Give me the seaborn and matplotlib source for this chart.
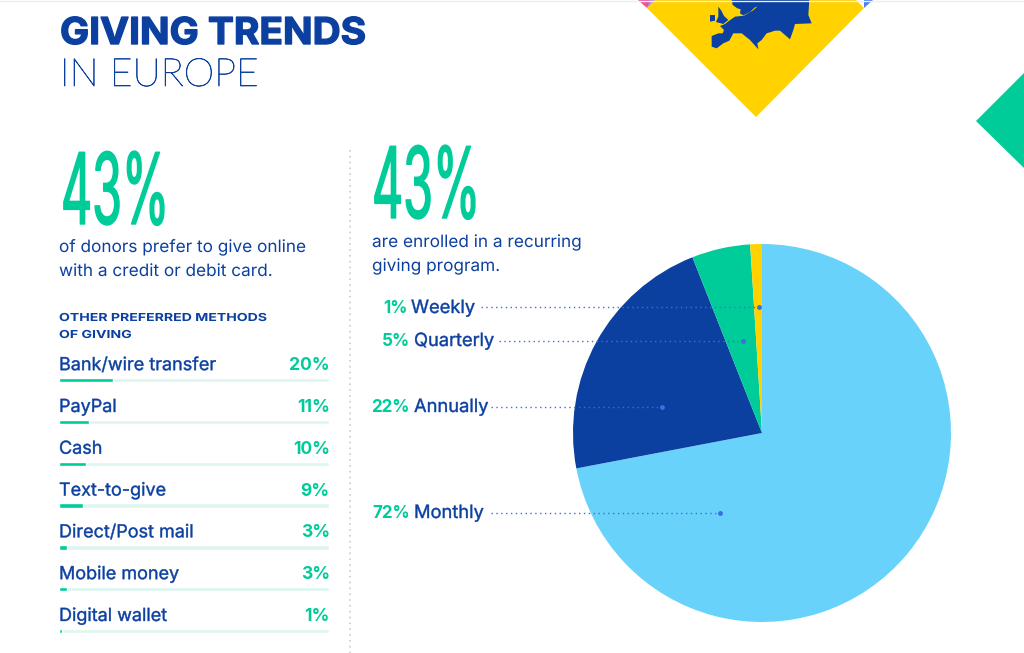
import matplotlib.patheffects as pe
import seaborn as sns
from matplotlib import pyplot as plt
from matplotlib.transforms import Affine2D

method_labels = ['Bank/wire transfer', 'PayPal', 'Cash', 'Text-to-give', 'Direct/Post mail', 'Mobile money', 'Digital wallet']
method_values = [20, 11, 10, 9, 3, 3, 1]
track_values = [100, 100, 100, 100, 100, 100, 100]

freq_labels = ['Monthly', 'Annually', 'Quarterly', 'Weekly']
freq_values = [72, 22, 5, 1]

NAVY = '#0B3FA0'
GREEN = '#00CC99'
SKY = '#69D2FA'
YELLOW = '#FFD200'
TRACK = '#DDF7F0'
DOT = '#3B6FE0'
FONT = 'Inter'

W, H = 1024, 653


class Stretch(pe.AbstractPathEffect):
    # scale a text around its anchor (x0, y0 are display px), optional outline to thicken
    def __init__(self, x0=0, y0=0, sx=1, sy=1, bold=0):
        super().__init__()
        self.x0 = x0
        self.y0 = y0
        self.sx = sx
        self.sy = sy
        self.bold = bold

    def draw_path(self, renderer, gc, tpath, affine, rgbFace=None):
        t = affine + Affine2D().translate(-self.x0, -self.y0).scale(self.sx, self.sy).translate(self.x0, self.y0)
        gc0 = renderer.new_gc()
        gc0.copy_properties(gc)
        if self.bold:
            gc0.set_linewidth(self.bold)
            gc0.set_foreground(rgbFace)
        else:
            gc0.set_linewidth(0)
        renderer.draw_path(gc0, tpath, t, rgbFace)
        gc0.restore()


def px_text(ax, x, y, s, size, color=NAVY, weight='normal', ha='left', sx=1, sy=1, bold=0, family=None):
    t = ax.text(x, y, s, fontsize=size * 0.72, color=color, fontweight=weight, ha=ha, va='baseline')
    if family:
        t.set_fontfamily(family)
    if sx != 1 or sy != 1 or bold:
        t.set_path_effects([Stretch(x, H - y, sx, sy, bold)])
    return t


sns.set_theme(style='white')
plt.rcParams['font.family'] = [FONT, 'DejaVu Sans']

fig = plt.figure(figsize=(W / 100, H / 100), dpi=100, facecolor='white')

# full page axes in pixel coords, for the decoration and text
bg = fig.add_axes([0, 0, 1, 1])
bg.set_xlim(0, W)
bg.set_ylim(H, 0)
bg.axis('off')

bg.fill([638, 647, 655, 646], [0, 8, 0, 0], color='#E8559A', lw=0)
bg.fill([647, 655, 650], [8, 0, 0], color='#A98BF5', lw=0)
bg.fill([864, 864, 873], [8, 0, 0], color='#4A80F0', lw=0)
bg.fill([655, 856, 864, 756, 647], [0, 0, 8, 117, 8], color=YELLOW, lw=0)
bg.fill([1024, 976, 1024], [73, 121, 168], color=GREEN, lw=0)
bg.plot([0, W], [0.5, 0.5], color='#EEEEEE', lw=1)

# map of europe, traced roughly (from a 3x crop at x=700)
europe = [(95, 0), (98, 15), (112, 25), (122, 28), (120, 40), (130, 46), (150, 36), (165, 22), (195, 13), (172, 20),
          (158, 32), (132, 47), (105, 50), (88, 62), (75, 72), (60, 78), (72, 90), (68, 100), (55, 100), (35, 108),
          (35, 140), (50, 145), (70, 130), (88, 122), (100, 100), (125, 100), (150, 120), (175, 148), (172, 130),
          (185, 120), (200, 100), (225, 92), (240, 92), (270, 118), (280, 90), (285, 72), (335, 70), (325, 45), (328, 0)]
uk = [(55, 20), (64, 32), (72, 48), (85, 60), (70, 72), (48, 66), (55, 50)]
ireland = [(30, 45), (45, 45), (45, 62), (30, 65)]
for shape in (europe, uk, ireland):
    bg.fill([700 + p[0] / 3 for p in shape], [p[1] / 3 for p in shape], color=NAVY, lw=0)

# divider
bg.plot([350, 350], [150, H], color='#CCCCCC', lw=1.2, ls=(0, (1, 2.5)))

# headings
px_text(bg, 60, 44, 'GIVING TRENDS', 37, weight='bold', sx=1.05, bold=1.0)
px_text(bg, 60, 86, 'IN EUROPE', 39, weight='light', sx=1.0, bold=0.5, family=['Lato', 'DejaVu Sans'])

# big numbers: small font size scaled up tall and narrow
px_text(bg, 61, 224, '43%', 72, color=GREEN, sx=0.67, sy=1.37, bold=1.0)
px_text(bg, 372, 218, '43%', 72, color=GREEN, sx=0.67, sy=1.37, bold=1.0)

px_text(bg, 59, 252, 'of donors prefer to give online', 17, sx=1.012)
px_text(bg, 59, 276, 'with a credit or debit card.', 17, sx=1.012)
px_text(bg, 372, 247, 'are enrolled in a recurring', 17, sx=1.012)
px_text(bg, 372, 271, 'giving program.', 17, sx=1.012)
px_text(bg, 59, 321, 'OTHER PREFERRED METHODS', 11, weight='bold', sx=1.28)
px_text(bg, 59, 338, 'OF GIVING', 11, weight='bold', sx=1.28)

# methods as thin bars over pale tracks
row = 41.8
bars = fig.add_axes([59 / W, 1 - (631 + row / 2) / H, 270 / W, 7 * row / H])
sns.barplot(x=track_values, y=method_labels, color=TRACK, width=0.105, saturation=1, ax=bars)
sns.barplot(x=method_values, y=method_labels, color=GREEN, width=0.105, saturation=1, ax=bars)
bars.set_xlim(0, 100)
bars.axis('off')
for i, (label, value) in enumerate(zip(method_labels, method_values)):
    name = bars.text(0, i - 0.24, label, fontsize=18 * 0.72, color=NAVY, va='baseline')
    name.set_path_effects([Stretch(bold=0.3)])
    bars.text(100.3, i - 0.24, f'{value}%', fontsize=17.5 * 0.72, color=GREEN, va='baseline', ha='right', fontweight='bold')

# pie, clockwise from the top
radius = 189
pie_ax = fig.add_axes([(762 - radius) / W, (H - 433 - radius) / H, 2 * radius / W, 2 * radius / H])
pie_ax.pie(freq_values, colors=[SKY, NAVY, GREEN, YELLOW], startangle=90, counterclock=False, radius=1,
           wedgeprops=dict(linewidth=0))
pie_ax.set_xlim(-1, 1)
pie_ax.set_ylim(-1, 1)

# callouts go on their own axes above the pie
over = fig.add_axes([0, 0, 1, 1], zorder=5)
over.patch.set_alpha(0)
over.set_xlim(0, W)
over.set_ylim(H, 0)
over.axis('off')

callouts = [
    # value index, pct right edge, label x, baseline, line start, line end, line y
    (3, 408, 411, 313, 481, 759, 307),
    (2, 410, 414, 346, 499, 743, 341),
    (1, 410, 414, 412, 491, 662, 407),
    (0, 410, 414, 518, 491, 720, 513),
]
for idx, pct_x, lab_x, base, x0, x1, y in callouts:
    px_text(over, pct_x, base, f'{freq_values[idx]}%', 17, color=GREEN, weight='bold', ha='right')
    px_text(over, lab_x, base, freq_labels[idx], 18.3, bold=0.3)
    over.plot([x0, x1], [y, y], color=DOT, lw=1, ls=(0, (1, 2.5)))
    over.plot([x1], [y], 'o', color=DOT, ms=3.5, mew=0)

fig.savefig('out.png', dpi=100)
